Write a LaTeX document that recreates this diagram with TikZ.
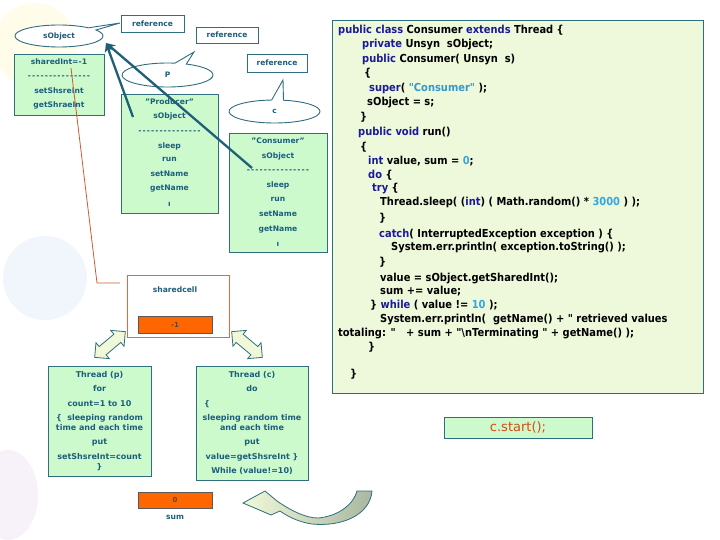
\documentclass[tikz,border=0pt]{standalone}
\usepackage{fontspec}
\setmainfont{DejaVu Sans}
\newfontfamily\codefont{DejaVu Sans}[FakeStretch=0.9]
\usetikzlibrary{shapes.callouts,shapes.arrows,arrows.meta}
\definecolor{tealtxt}{HTML}{1C5E7E}
\definecolor{tealln}{HTML}{2E6E7E}
\definecolor{arrteal}{HTML}{1F5F7A}
\definecolor{boxgreen}{HTML}{CCFACC}
\definecolor{codebg}{HTML}{EEF8DA}
\definecolor{kwc}{HTML}{1A1A9A}
\definecolor{strcol}{HTML}{3399CC}
\definecolor{numcol}{HTML}{33A6E0}
\definecolor{orangec}{HTML}{FF6600}
\definecolor{cellred}{HTML}{E8663C}
\definecolor{linered}{HTML}{D05A30}
\definecolor{startcol}{HTML}{D84A10}
\definecolor{paleyel}{HTML}{F0F8D8}
\definecolor{greygreen}{HTML}{A9B8A2}
\definecolor{bgblue}{HTML}{F0F6FC}
\definecolor{bgpurple}{HTML}{F7F1FA}
\definecolor{bgyellow}{HTML}{FFFCEA}
\newcommand\kwd[1]{\textcolor{kwc}{#1}}
\newcommand\strc[1]{\textcolor{strcol}{#1}}
\newcommand\numc[1]{\textcolor{numcol}{#1}}
\newcommand\dsh{-\kern1.05pt}
\newcommand\dashrow{\dsh\dsh\dsh\dsh\dsh\dsh\dsh\dsh\dsh\dsh\dsh\dsh\dsh\dsh-}
\tikzset{
  lbl/.style={font=\bfseries\fontsize{7.6}{9}\selectfont, text=tealtxt, inner sep=0, text height=5.5pt, text depth=1.5pt},
  thr/.style={font=\bfseries\fontsize{8}{9}\selectfont, text=tealtxt, inner sep=0, text height=6pt, text depth=1.6pt},
  gbox/.style={draw=tealln, fill=boxgreen, line width=0.9pt, inner sep=0},
  refbox/.style={draw=tealln, fill=white, line width=0.9pt, inner sep=0, font=\bfseries\fontsize{7.5}{9}\selectfont, text=tealtxt},
  bubble/.style={ellipse callout, draw=tealln, fill=white, line width=0.9pt, inner sep=0, font=\bfseries\fontsize{7.5}{9}\selectfont, text=tealtxt},
  orbox/.style={draw=black!65, fill=orangec, line width=0.9pt, inner sep=0, font=\bfseries\fontsize{7}{8}\selectfont, text=black!70},
  code/.style={font=\codefont\bfseries\fontsize{11}{12}\selectfont, anchor=base west, inner sep=0},
  dblarr/.style={double arrow, draw=tealln, fill=paleyel, line width=0.8pt, inner xsep=0pt, inner ysep=5pt, double arrow head extend=5pt, minimum height=40pt},
  refarrow/.style={-{Stealth[length=9pt,width=9pt]}, line width=2.3pt, draw=arrteal}
}
\begin{document}
\begin{tikzpicture}[x=1pt,y=-1pt]
\useasboundingbox (0,0) rectangle (720,540);
% faint background decoration
\fill[bgyellow] (35,45) circle (42);
\fill[bgblue] (45,278) circle (42);
\fill[bgpurple] (8,495) ellipse (30 and 45);

% reference boxes
\node[refbox, minimum width=63pt, minimum height=17pt] (ref1) at (152.5,23.5) {reference};
\node[refbox, minimum width=62pt, minimum height=16pt] (ref2) at (227,35) {reference};
\node[refbox, minimum width=60pt, minimum height=18pt] (ref3) at (277,63) {reference};

% callouts
\coordinate (tip1) at (120,23);
\coordinate (tip2) at (194,52);
\coordinate (tip3) at (283,80);
\node[bubble, minimum width=88pt, minimum height=22pt, callout absolute pointer={(tip1)}] (sobj) at (59,36) {sObject};
\node[bubble, minimum width=91pt, minimum height=24pt, callout absolute pointer={(tip2)}] (pbub) at (167.5,75) {P};
\node[bubble, minimum width=91pt, minimum height=23pt, callout absolute pointer={(tip3)}] (cbub) at (274.5,111.5) {c};

% shared int box
\node[gbox, minimum width=90pt, minimum height=61pt] (shbox) at (59,84.5) {};
\node[lbl] (sh1) at (59,63) {sharedInt=-1};
\node[lbl] (sh2) at (59,77) {\dashrow};
\node[lbl] (sh3) at (59,92) {setShsreInt};
\node[lbl] (sh4) at (59,106) {getShraeInt};

% producer box
\node[gbox, minimum width=97pt, minimum height=119pt] (prod) at (169.5,153.5) {};
\node[lbl] (pr1) at (169.5,103) {"Producer"};
\node[lbl] (pr2) at (169.5,117) {sObject};
\node[lbl] (pr3) at (169.5,132) {\dashrow};
\node[lbl] (pr4) at (169.5,147) {sleep};
\node[lbl] (pr5) at (169.5,160) {run};
\node[lbl] (pr6) at (169.5,175) {setName};
\node[lbl] (pr7) at (169.5,189) {getName};
\node[lbl] (pr8) at (169.5,205) {ı};

% consumer box
\node[gbox, minimum width=98pt, minimum height=119pt] (cons) at (278,192.5) {};
\node[lbl] (co1) at (278,142) {"Consumer"};
\node[lbl] (co2) at (278,157) {sObject};
\node[lbl] (co3) at (278,171) {\dashrow};
\node[lbl] (co4) at (278,186) {sleep};
\node[lbl] (co5) at (278,200) {run};
\node[lbl] (co6) at (278,214) {setName};
\node[lbl] (co7) at (278,229) {getName};
\node[lbl] (co8) at (278,244) {ı};

% reference arrows
\coordinate (sotip) at (106,43);
\coordinate (pstart) at (133,117);
\coordinate (cstart) at (252,168);
\draw[refarrow] (pstart) -- (sotip);
\draw[refarrow] (cstart) -- (sotip);

% shared cell
\node[draw=cellred, fill=white, line width=0.9pt, minimum width=102pt, minimum height=62pt, inner sep=0] (cell) at (178,306) {};
\node[lbl] (celltxt) at (175,290) {sharedcell};
\node[orbox, minimum width=74pt, minimum height=17pt] (val) at (175,324.5) {-1};

% red link
\coordinate (rl1) at (71,68);
\coordinate (rl2) at (97,283);
\coordinate (rl3) at (120,283);
\draw[linered, line width=0.8pt] (rl1) -- (rl2) -- (rl3);

% double arrows
\node[dblarr, rotate=40] (da1) at (110,344.5) {};
\node[dblarr, rotate=-40] (da2) at (247,344.5) {};

% thread p
\node[gbox, minimum width=103pt, minimum height=110pt] (thp) at (99.5,421) {};
\node[thr] (tp1) at (99.5,375) {Thread (p)};
\node[thr] (tp2) at (99.5,389) {for};
\node[thr] (tp3) at (99.5,404) {count=1 to 10};
\node[thr] (tp4) at (99.5,418) {\{\ \ sleeping random};
\node[thr] (tp5) at (99.5,428) {time and each time};
\node[thr] (tp6) at (99.5,442) {put};
\node[thr] (tp7) at (99.5,457) {setShsreInt=count};
\node[thr] (tp8) at (99.5,467) {\}};

% thread c
\node[gbox, minimum width=112pt, minimum height=114pt] (thc) at (252,423) {};
\node[thr] (tc1) at (252,375) {Thread (c)};
\node[thr] (tc2) at (252,389) {do};
\node[thr, anchor=west] (tc3) at (204,404) {\{};
\node[thr] (tc4) at (252,418) {sleeping random time};
\node[thr] (tc5) at (252,428) {and each time};
\node[thr] (tc6) at (252,442) {put};
\node[thr] (tc7) at (252,457) {value=getShsreInt \}};
\node[thr] (tc8) at (252,471) {While (value!=10)};

% sum
\node[orbox, minimum width=74pt, minimum height=16pt] (sumbox) at (175,500) {0};
\node[lbl] (sumtxt) at (175,517) {sum};

% curved arrow
\path[draw=tealln, line width=0.8pt, left color=paleyel, right color=greygreen]
  (357,491) -- (372,491)
  .. controls (370,515) and (342,527) .. (312,524)
  .. controls (298,522) and (287,516) .. (280,511)
  -- (271,515) -- (243,503) -- (265,491) -- (277,501)
  .. controls (290,510) and (305,518) .. (318,518)
  .. controls (340,516) and (354,503) .. (357,491) -- cycle;

% code box
\node[draw=tealln, fill=codebg, line width=0.9pt, minimum width=371pt, minimum height=373pt, inner sep=0] (codebox) at (517.5,206.5) {};
\node[code] (l1) at (338,34) {\kwd{public class} Consumer \kwd{extends} Thread \{};
\node[code] (l2) at (362,48) {\kwd{private} Unsyn\ \ sObject;};
\node[code] (l3) at (362,63) {\kwd{public} Consumer( Unsyn\ \ s)};
\node[code] (l4) at (364,77) {\{};
\node[code] (l5) at (369,92) {\kwd{super}( \strc{"Consumer"} );};
\node[code] (l6) at (367,106) {sObject = s;};
\node[code] (l7) at (360,121) {\}};
\node[code] (l8) at (358,136) {\kwd{public void} run()};
\node[code] (l9) at (360,151) {\{};
\node[code] (l10) at (368,165) {\kwd{int} value, sum = \numc{0};};
\node[code] (l11) at (368,179) {\kwd{do} \{};
\node[code] (l12) at (372,192) {\kwd{try} \{};
\node[code] (l13) at (380,206) {Thread.sleep( (\kwd{int}) ( Math.random() * \numc{3000} ) );};
\node[code] (l14) at (379,222) {\}};
\node[code] (l15) at (379,237) {\kwd{catch}( InterruptedException exception ) \{};
\node[code] (l16) at (391,251) {System.err.println( exception.toString() );};
\node[code] (l17) at (379,265) {\}};
\node[code] (l18) at (380,281) {value = sObject.getSharedInt();};
\node[code] (l19) at (380,294) {sum += value;};
\node[code] (l20) at (370,308) {\} \kwd{while} ( value != \numc{10} );};
\node[code] (l21) at (380,322) {System.err.println(\ \ getName() + " retrieved values};
\node[code] (l22) at (338,336) {totaling: "\ \ \ + sum + "\textbackslash nTerminating " + getName() );};
\node[code] (l23) at (368,350) {\}};
\node[code] (l24) at (350,377) {\}};

% start box
\node[gbox, minimum width=148pt, minimum height=21pt, font=\fontsize{13}{15}\selectfont, text=startcol] (start) at (518,427.5) {c.start();};
\end{tikzpicture}
\end{document}
